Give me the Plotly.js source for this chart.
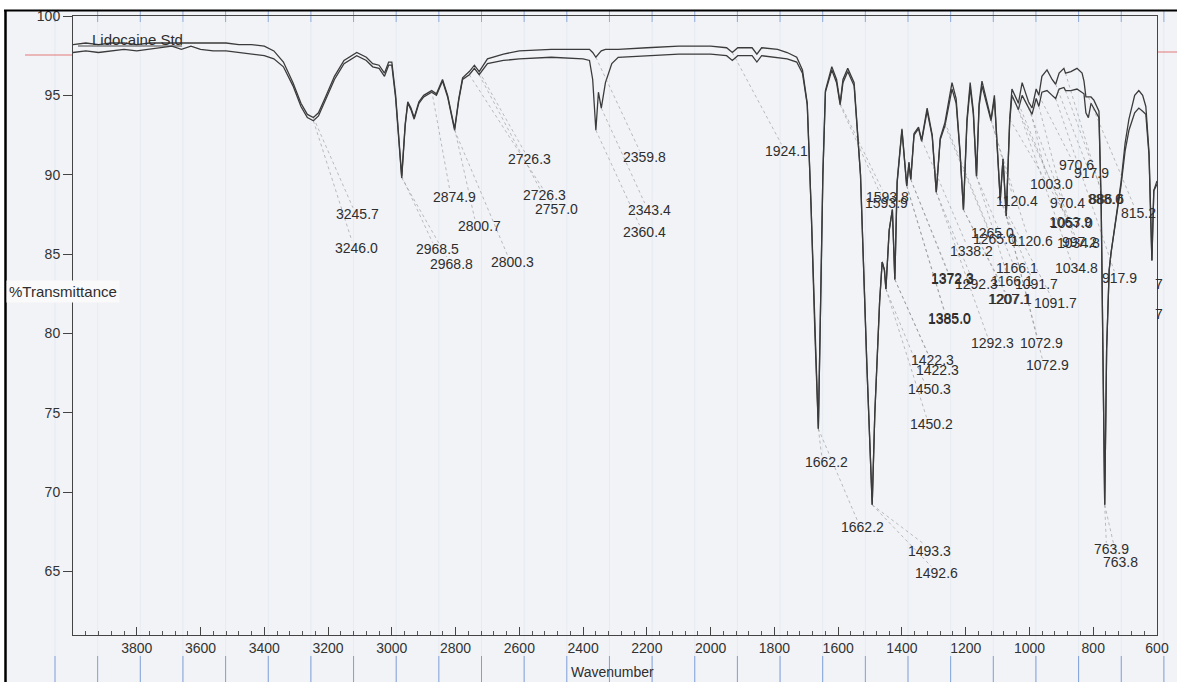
<!DOCTYPE html>
<html><head><meta charset="utf-8">
<script src="https://cdn.plot.ly/plotly-3.0.1.min.js"></script>
<style>html,body{margin:0;padding:0;background:#fff;}#chart{width:1177px;height:682px;}</style>
</head><body><div id="chart"></div>
<script>
// ---- Data ----
const wavenumber = [4000,3960,3920,3880,3840,3800,3760,3720,3690,3660,3630,3600,3560,3520,3480,3440,3400,3370,3340,3310,3285,3265,3246,3230,3210,3180,3150,3110,3080,3060,3040,3023,3010,3000,2988,2969,2958,2950,2940,2930,2915,2900,2875,2860,2841,2825,2803,2790,2778,2757,2741,2726,2700,2650,2600,2500,2400,2380,2370,2360,2352,2343,2330,2310,2290,2200,2100,2000,1950,1932,1915,1870,1855,1840,1790,1760,1730,1712,1697,1685,1673,1662.2,1655,1648,1640,1620,1605,1593.8,1585,1570,1550,1530,1510,1493.3,1485,1470,1462,1455,1450.3,1440,1430,1422.3,1415,1400,1385,1378,1372.3,1362,1348,1338.2,1321,1305,1292.3,1280,1265,1243,1230,1218,1207.1,1196,1186,1176,1166.1,1158,1149,1135,1120.4,1110,1091.7,1083,1072.9,1062,1055,1039,1034.8,1023,1008,1003,992,979,970.5,961,945,929,917.9,907,892,887,870,851,835,829,823,815.2,807,798,782,775,770,764,758,750,744,729,713,700,688,670,657,645,635,625,616,610,600];
const transStd = [98.2,98.3,98.2,98.3,98.3,98.2,98.3,98.3,98.3,98.3,98.3,98.3,98.3,98.3,98.2,98.2,98.1,97.8,97.1,95.8,94.5,93.8,93.6,93.9,94.8,96.2,97.2,97.7,97.4,97.0,96.9,96.4,97.1,97.1,95.0,89.9,93.2,94.6,94.2,93.6,94.6,95.0,95.3,95.1,96.0,95.0,92.9,94.8,96.1,96.5,96.9,96.5,97.3,97.6,97.8,97.9,97.9,97.9,97.7,97.4,97.6,97.8,97.9,97.9,97.9,98.0,98.1,98.1,98.0,97.7,98.0,98.0,97.6,98.0,97.9,97.7,97.4,96.6,94.5,88.0,80.0,74.0,82.0,90.0,95.3,96.8,96.0,94.5,96.0,96.7,95.8,90.0,78.0,69.2,75.0,82.0,84.5,84.0,82.8,86.5,87.8,83.4,89.6,92.9,89.3,90.8,89.7,92.6,93.0,92.2,94.2,92.5,88.9,92.3,93.3,95.8,94.8,91.5,87.8,93.5,95.8,94.0,89.9,94.5,95.9,94.8,93.5,95.0,88.4,91.0,87.4,93.5,95.4,94.7,94.5,95.8,94.9,94.6,94.2,95.4,95.0,96.2,96.6,96.0,95.7,96.4,96.7,96.4,96.5,96.7,96.4,95.9,94.9,94.9,94.9,94.7,94.0,88.0,78.0,69.2,79.0,84.0,85.1,87.2,89.5,92.0,93.5,95.0,95.3,95.0,94.3,91.4,84.6,89.0,89.6];
const transSample = [97.7,97.8,97.7,97.8,97.9,97.8,97.9,98.0,98.1,97.9,98.1,97.9,97.8,97.8,97.7,97.6,97.5,97.3,96.8,95.6,94.3,93.6,93.4,93.7,94.6,96.0,97.0,97.5,97.2,96.8,96.7,96.2,96.9,96.9,94.8,89.8,93.1,94.5,94.1,93.5,94.5,94.9,95.2,95.0,95.9,94.9,92.8,94.7,96.0,96.3,96.7,96.3,97.0,97.2,97.3,97.4,97.3,97.2,96.0,92.8,95.2,94.2,95.8,97.0,97.4,97.5,97.6,97.6,97.5,97.2,97.5,97.5,97.1,97.5,97.4,97.3,97.1,96.4,94.4,88.0,80.0,74.0,82.0,90.0,95.2,96.6,95.8,94.4,95.8,96.5,95.6,90.0,78.0,69.2,75.0,82.0,84.5,84.0,82.8,86.5,87.8,83.4,89.5,92.8,89.3,90.7,89.7,92.5,92.9,92.1,94.0,92.4,88.9,92.2,93.1,95.4,94.5,91.4,87.8,93.3,95.5,93.8,89.9,94.3,95.6,94.6,93.4,94.8,88.4,91.0,87.4,93.3,95.0,94.3,94.1,95.0,94.4,94.2,93.8,94.8,94.3,95.2,95.3,95.0,94.8,95.4,95.5,95.3,95.3,95.4,95.2,95.1,93.9,93.6,94.5,94.2,93.6,88.0,78.0,69.2,79.0,84.0,85.1,87.2,89.3,91.5,92.8,93.9,94.2,94.0,93.8,91.2,84.6,89.0,89.4];
const xTickVals = [3800,3600,3400,3200,3000,2800,2600,2400,2200,2000,1800,1600,1400,1200,1000,800,600];
const yTickVals = [65,70,75,80,85,90,95,100];
const peakText  = ["3245.7","3246.0","2968.5","2968.8","2874.9","2800.7","2800.3","2726.3","2726.3","2757.0","2359.8","2343.4","2360.4","1924.1","1593.8","1593.9","1120.4","970.6","917.9","1003.0","970.4","888.0","886.6","815.2","1063.9","1057.0","1265.0","1265.0","1338.2","1120.6","1034.8","997.2","1166.1","1034.8","1372.3","1372.3","1292.3","1166.1","1091.7","917.9","1207.1","1207.1","1091.7","1385.0","1385.0","1292.3","1072.9","1072.9","1422.3","1422.3","1450.3","1450.2","1662.2","1662.2","1493.3","1492.6","763.9","763.8"];
const peakWn    = [3246,3246,2969,2969,2875,2803,2803,2726,2726,2757,2360,2343,2360,1932,1593.8,1593.8,1120.4,970.5,917.9,1003,970.5,887,887,815.2,1062,1055,1265,1265,1338.2,1120.4,1034.8,1003,1166.1,1034.8,1372.3,1372.3,1292.3,1166.1,1091.7,917.9,1207.1,1207.1,1091.7,1385,1385,1292.3,1072.9,1072.9,1422.3,1422.3,1450.3,1450.3,1662.2,1662.2,1493.3,1493.3,764,764];
const peakTrace = ["A","B","A","B","A","A","B","A","B","B","A","B","B","A","A","B","A","A","A","A","B","A","B","A","A","B","A","B","A","B","A","B","A","B","A","B","A","B","A","B","A","B","B","A","B","B","A","B","A","B","A","B","A","B","A","B","A","B"];

// ---- Layout helpers (label placement in axis units) ----
const labelX = [3107,3110,2857,2813,2803,2725,2622,2568,2521,2484,2208,2192,2208,1763,1446,1449,1039,854,804,932,882,760,757,657,870,868,1117,1111,1183,992,847,843,1039,854,1243,1240,1167,1055,979,719,1064,1061,917,1252,1250,1117,961,945,1305,1290,1315,1308,1637,1525,1315,1293,744,713];
const labelY = [87.5,85.4,85.3,84.4,88.6,86.8,84.5,91.0,88.7,87.85,91.1,87.8,86.4,91.5,88.6,88.2,88.35,90.6,90.1,89.4,88.2,88.5,88.45,87.6,87.0,86.95,86.35,85.95,85.2,85.8,85.7,85.75,84.1,84.1,83.5,83.45,83.1,83.3,83.1,83.5,82.2,82.2,81.9,80.95,80.9,79.4,79.4,78.0,78.35,77.7,76.5,74.3,71.9,67.8,66.3,64.9,66.4,65.6];

function interp(xs, ys, x){
  for(let i=0;i<xs.length-1;i++){
    const a=xs[i], b=xs[i+1];
    if(x<=a && x>=b){ const t=(a===b)?0:(x-a)/(b-a); return ys[i]+t*(ys[i+1]-ys[i]); }
  }
  return ys[ys.length-1];
}

const L = 73, R = 1157, T = 16, B = 635;
const W = R-L, H = B-T;
const px = v => (v-L)/W;
const py = v => (B-v)/H;

const lineCol = '#3b3b3b';
const traces = [
  {x: wavenumber, y: transStd, type:'scatter', mode:'lines', line:{color:lineCol, width:1.3}, hoverinfo:'skip', showlegend:false},
  {x: wavenumber, y: transSample, type:'scatter', mode:'lines', line:{color:lineCol, width:1.3}, hoverinfo:'skip', showlegend:false}
];

const font = 'Liberation Sans, Arial, sans-serif';
const shapes = [];
const annotations = [];
peakText.forEach((t,i)=>{
  const ys = peakTrace[i]==='A' ? transStd : transSample;
  const yPeak = interp(wavenumber, ys, peakWn[i]);
  shapes.push({type:'line', xref:'x', yref:'y', x0:peakWn[i], y0:yPeak, x1:labelX[i]+15, y1:labelY[i]+0.42,
    line:{color:'rgba(110,110,110,0.55)', width:0.8, dash:'dot'}});
  annotations.push({x:labelX[i], y:labelY[i], xref:'x', yref:'y', text:t, showarrow:false,
    font:{family:font, size:14, color:'#2e2e2e'}, xanchor:'center', yanchor:'middle'});
});
annotations.push({x:612, y:83.1, xref:'x', yref:'y', text:'7', showarrow:false, font:{family:font,size:14,color:'#2e2e2e'}, xanchor:'left'});
annotations.push({x:612, y:81.2, xref:'x', yref:'y', text:'7', showarrow:false, font:{family:font,size:14,color:'#2e2e2e'}, xanchor:'left'});
annotations.push({x:3948, y:98.55, xref:'x', yref:'y', text:'Lidocaine Std', showarrow:false, xanchor:'left', yanchor:'middle', font:{family:font, size:15, color:'#2e2e2e'}});
annotations.push({x:px(6), y:py(291), xref:'paper', yref:'paper', text:'%Transmittance', showarrow:false, xanchor:'left', yanchor:'middle', bgcolor:'#fafafa', borderpad:2, font:{family:font, size:15, color:'#2e2e2e'}});
annotations.push({x:px(612), y:py(662), xref:'paper', yref:'paper', text:'Wavenumber', showarrow:false, xanchor:'center', yanchor:'top', font:{family:font, size:14, color:'#2e2e2e'}});

// decorative scan/graph paper
shapes.push({type:'rect', xref:'paper', yref:'paper', x0:px(5), x1:px(1180), y0:py(690), y1:py(10), fillcolor:'#f2f3f7', line:{width:0}, layer:'below'});
for(let k=0;k<27;k++){
  const xp = 55 + 42.65*k;
  shapes.push({type:'line', xref:'paper', yref:'paper', x0:px(xp), x1:px(xp), y0:py(682), y1:py(11), line:{color:'rgba(150,170,215,0.12)', width:1}, layer:'below'});
  shapes.push({type:'line', xref:'paper', yref:'paper', x0:px(xp), x1:px(xp), y0:py(682), y1:py(656), line:{color:'rgba(70,120,205,0.65)', width:1}, layer:'below'});
  shapes.push({type:'line', xref:'paper', yref:'paper', x0:px(xp), x1:px(xp), y0:py(22), y1:py(11), line:{color:'rgba(70,120,205,0.55)', width:1}, layer:'below'});
}
shapes.push({type:'line', xref:'paper', yref:'paper', x0:px(25), x1:px(72), y0:py(55), y1:py(55), line:{color:'rgba(225,90,90,0.8)', width:1}, layer:'below'});
shapes.push({type:'line', xref:'paper', yref:'paper', x0:px(1158), x1:px(1177), y0:py(52), y1:py(52), line:{color:'rgba(225,90,90,0.8)', width:1}, layer:'below'});
shapes.push({type:'line', xref:'paper', yref:'paper', x0:px(5.5), x1:px(5.5), y0:py(682), y1:py(10), line:{color:'#000', width:2.5}});
shapes.push({type:'line', xref:'paper', yref:'paper', x0:px(4), x1:px(1177), y0:py(10.5), y1:py(10.5), line:{color:'#000', width:2}});
shapes.push({type:'line', xref:'paper', yref:'paper', x0:px(78), x1:px(182), y0:py(46), y1:py(46), line:{color:'#444', width:1}});

const layout = {
  width:1177, height:682,
  margin:{l:L, r:1177-R, t:T, b:682-B, pad:0},
  paper_bgcolor:'#ffffff', plot_bgcolor:'rgba(0,0,0,0)',
  showlegend:false,
  xaxis:{range:[4000,600], tickmode:'array', tickvals:xTickVals, ticks:'inside', ticklen:8, tickwidth:1, tickcolor:'#444',
    minor:{tickmode:'linear', tick0:600, dtick:40, ticks:'inside', ticklen:4, tickcolor:'#555', showgrid:false},
    showline:true, linecolor:'#444', linewidth:1, mirror:true, showgrid:false, zeroline:false,
    tickfont:{family:font, size:14, color:'#333'}},
  yaxis:{range:[61,100], tickmode:'array', tickvals:yTickVals, ticks:'outside', ticklen:9, tickwidth:1, tickcolor:'#444',
    showline:true, linecolor:'#444', linewidth:1, mirror:true, showgrid:false, zeroline:false,
    tickfont:{family:font, size:14, color:'#333'}},
  annotations, shapes
};
Plotly.newPlot('chart', traces, layout, {displayModeBar:false, staticPlot:true});
</script>
</body></html>
